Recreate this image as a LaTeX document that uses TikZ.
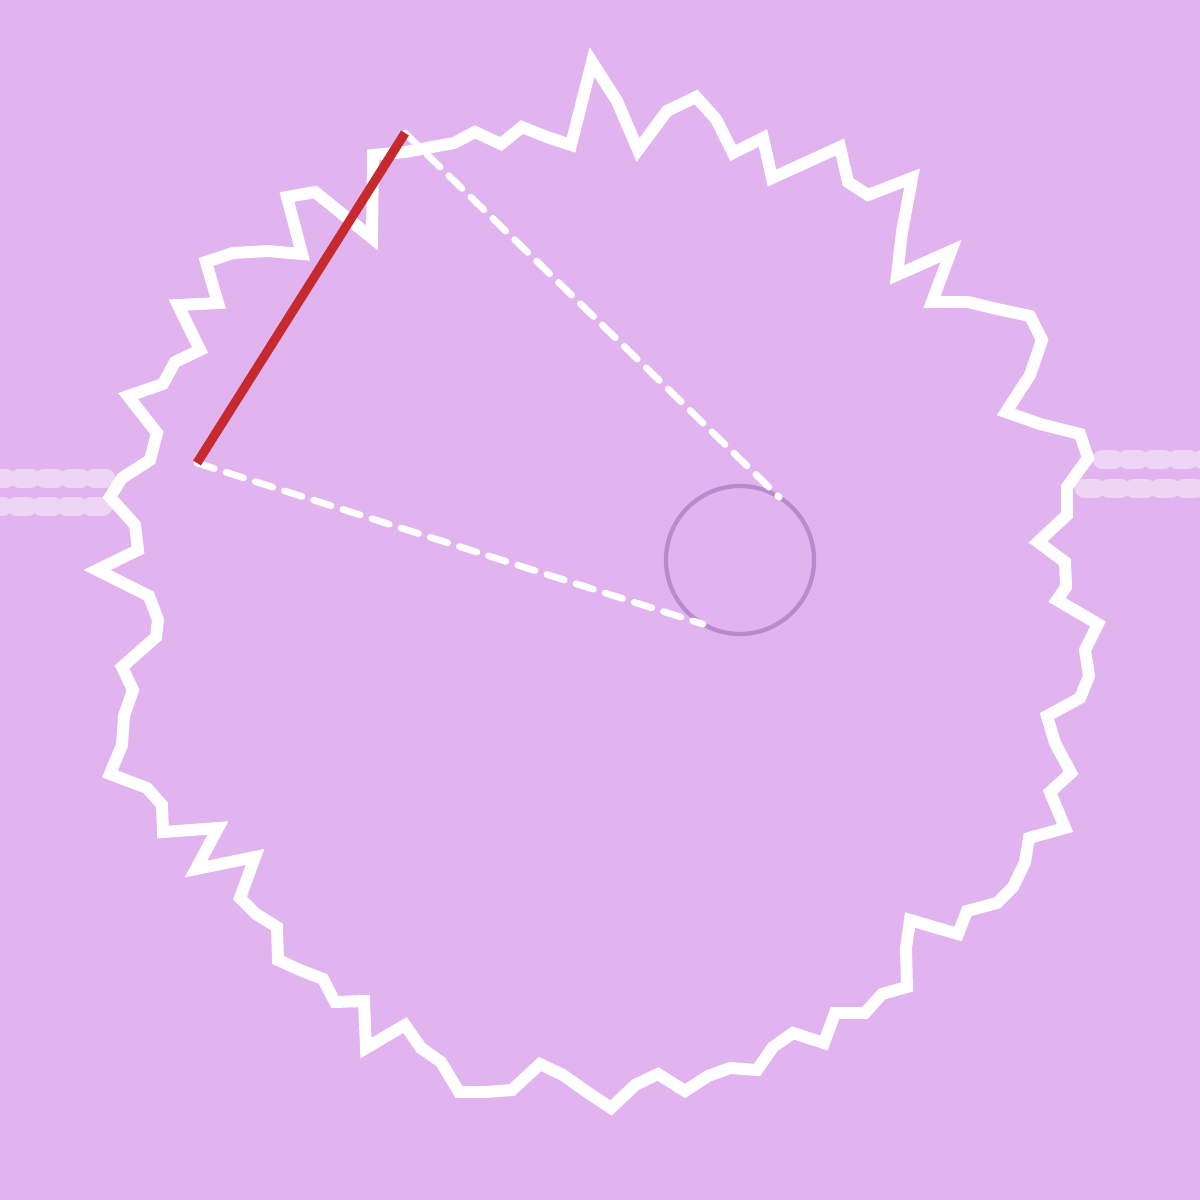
\documentclass[tikz,border=0pt]{standalone}
\definecolor{bgc}{HTML}{E1B3EF}
\definecolor{bandc}{HTML}{EED4F5}
\definecolor{redc}{HTML}{C62A2F}
\definecolor{ringc}{HTML}{B98BCD}
\begin{document}
\begin{tikzpicture}[x=0.01cm,y=-0.01cm,
  gearline/.style={draw=white,line width=3.4pt,line join=miter,miter limit=10},
  band/.style={draw=bandc,line width=5.4pt,line cap=round,dash pattern=on 3.4pt off 3.7pt},
  redbar/.style={draw=redc,line width=2.6pt},
  guide/.style={draw=white,line width=1.9pt,line cap=round,dash pattern=on 5.2pt off 3.5pt},
  hubring/.style={circle,draw=ringc,line width=1.2pt,minimum size=1.48cm,inner sep=0pt,outer sep=0pt}]
\useasboundingbox (0,0) rectangle (1200,1200);
\fill[bgc] (0,0) rectangle (1200,1200);
\clip (0,0) rectangle (1200,1200);
% bands
\draw[band] (106,478) -- (-40,478);
\draw[band] (103,506) -- (-40,506);
\draw[band] (1102,459) -- (1240,459);
\draw[band] (1084,488) -- (1240,488);
% gear outline
\draw[gearline] (97,570) -- (138,550) -- (135,525) -- (110,497) -- (122,478) -- (150,460) -- (157,433)
 -- (128,396) -- (163,384) -- (175,362) -- (200,350) -- (178,305) -- (218,303) -- (206,262)
 -- (233,253) -- (268,251) -- (302,254) -- (287,197) -- (315,192) -- (372,238) -- (373,155)
 -- (405,152) -- (454,143) -- (475,132) -- (501,144) -- (522,127) -- (547,137) -- (571,145)
 -- (592,62) -- (617,101) -- (638,150) -- (667,111) -- (696,97) -- (716,119) -- (733,153)
 -- (763,138) -- (772,178) -- (805,163) -- (840,147) -- (848,182) -- (868,195) -- (912,178)
 -- (902,232) -- (897,275) -- (951,251) -- (932,302) -- (968,302) -- (997,309) -- (1030,316)
 -- (1042,340) -- (1030,375) -- (1006,412) -- (1040,424) -- (1080,434) -- (1088,458)
 -- (1067,487) -- (1067,515) -- (1038,542) -- (1065,562) -- (1066,587) -- (1057,600)
 -- (1098,624) -- (1085,650) -- (1089,676) -- (1080,698) -- (1047,716) -- (1055,743)
 -- (1071,773) -- (1050,792) -- (1065,828) -- (1029,838) -- (1025,862) -- (1013,887)
 -- (997,903) -- (967,911) -- (958,934) -- (910,920) -- (906,948) -- (907,987) -- (882,994)
 -- (865,1013) -- (835,1013) -- (824,1043) -- (793,1033) -- (773,1047) -- (757,1070)
 -- (730,1068) -- (708,1076) -- (685,1091) -- (658,1074) -- (635,1085) -- (611,1108)
 -- (587,1092) -- (563,1075) -- (540,1064) -- (512,1090) -- (485,1092) -- (459,1092)
 -- (441,1062) -- (421,1048) -- (405,1025) -- (366,1048) -- (364,1001) -- (335,1002)
 -- (323,979) -- (300,970) -- (278,960) -- (277,927) -- (256,914) -- (240,898) -- (255,857)
 -- (196,869) -- (218,828) -- (163,832) -- (162,805) -- (147,788) -- (110,774) -- (122,745)
 -- (124,716) -- (133,690) -- (122,667) -- (156,637) -- (158,620) -- (149,596) -- cycle;
% hub circle and bar ends
\node[hubring] (hub) at (740,560) {};
\coordinate (ra) at (405,133);
\coordinate (rb) at (197,463);
% dashed guides
\draw[guide] (rb) -- (hub.240);
\draw[guide] (ra) -- (hub.58);
% red bar
\draw[redbar] (ra) -- (rb);
\end{tikzpicture}
\end{document}
